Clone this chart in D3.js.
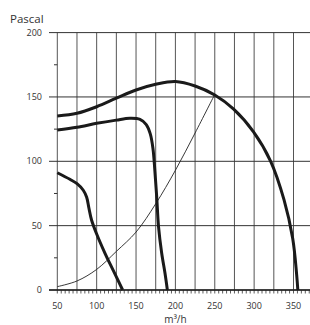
<!DOCTYPE html>
<html>
<head>
<meta charset="utf-8">
<script src="https://cdn.jsdelivr.net/npm/d3@7"></script>
<style>
  body { margin: 0; background: #fff; }
  text { font-family: "Open Sans", sans-serif; fill: #333; }
</style>
</head>
<body>
<svg id="chart" width="310" height="325"></svg>
<script>
// fan curves (m3/h, Pa)
const upperCurve = [[50,135.2],[75,137.3],[100,142.4],[125,149],[150,155.4],[175,159.8],[200,162],[225,158.5],[250,151.5],[274,140.5],[299,123],[321,100],[338,70],[349,40],[354,12],[355.5,0]];
const middleCurve = [[50,124.3],[75,126.4],[100,129.5],[125,132],[142,133.4],[155,132.6],[163,128.5],[168,121.5],[171.5,110],[174,92],[176.3,72],[178.6,49],[182.6,28.5],[186.8,13],[189.8,0]];
const lowerCurve = [[50,91.1],[66,86],[75,82.6],[83,77.5],[87.3,72],[90.2,63.5],[93.5,54.4],[100,43.5],[110.6,28.5],[121.2,15],[133,0]];
const systemCurve = [[50,2.6],[75,7],[100,16],[125,30],[150,45],[175,67],[200,93],[225,122],[250,152]];

const xTicks = [50,100,150,200,250,300,350];
const yTicks = [0,50,100,150,200];

const svg = d3.select("#chart");

const x = d3.scaleLinear().domain([50, 350]).range([57.3, 293.5]);
const y = d3.scaleLinear().domain([0, 200]).range([290, 32.6]);

const grid = svg.append("g").attr("id", "grid");

// vertical grid every 25
grid.selectAll("line.v")
  .data(d3.range(50, 400, 25))
  .enter().append("line")
  .attr("class", "v")
  .attr("x1", d => x(d)).attr("x2", d => x(d))
  .attr("y1", y(200)).attr("y2", y(0))
  .attr("stroke", "#555")
  .attr("stroke-width", 1);

// horizontal grid
grid.selectAll("line.h")
  .data(yTicks)
  .enter().append("line")
  .attr("class", "h")
  .attr("x1", 49).attr("x2", 310)
  .attr("y1", d => y(d)).attr("y2", d => y(d))
  .attr("stroke", "#333")
  .attr("stroke-width", 1);

// minor y ticks
grid.selectAll("line.ym")
  .data([25,75,125,175])
  .enter().append("line")
  .attr("x1", 54).attr("x2", x(50))
  .attr("y1", d => y(d)).attr("y2", d => y(d))
  .attr("stroke", "#333");

// minor x ticks every 5
grid.selectAll("line.xm")
  .data(d3.range(50, 380, 5))
  .enter().append("line")
  .attr("x1", d => x(d)).attr("x2", d => x(d))
  .attr("y1", y(0)).attr("y2", y(0) + 3.5)
  .attr("stroke", "#333")
  .attr("stroke-width", 0.8);

// axis line
grid.append("line")
  .attr("x1", 49).attr("x2", 310)
  .attr("y1", y(0)).attr("y2", y(0))
  .attr("stroke", "#222").attr("stroke-width", 1.3);

// labels
svg.selectAll("text.yl")
  .data(yTicks)
  .enter().append("text")
  .attr("x", 42)
  .attr("y", d => y(d) + 3)
  .attr("text-anchor", "end")
  .style("font-size", "9px")
  .text(d => d);

svg.selectAll("text.xl")
  .data(xTicks)
  .enter().append("text")
  .attr("x", d => x(d))
  .attr("y", 309)
  .attr("text-anchor", "middle")
  .style("font-size", "9px")
  .text(d => d);

svg.append("text")
  .attr("x", 10).attr("y", 23)
  .style("font-size", "11.5px")
  .text("Pascal");

svg.append("text")
  .attr("x", x(200)).attr("y", 323)
  .attr("text-anchor", "middle")
  .style("font-size", "10px")
  .text("m³/h");

const line = d3.line()
  .x(d => x(d[0]))
  .y(d => y(d[1]))
  .curve(d3.curveCatmullRom.alpha(0.5));

svg.append("path")
  .datum(systemCurve)
  .attr("d", line)
  .attr("fill", "none")
  .attr("stroke", "#222")
  .attr("stroke-width", 0.9);

[upperCurve, middleCurve, lowerCurve].forEach(c => {
  svg.append("path")
    .datum(c)
    .attr("d", line)
    .attr("fill", "none")
    .attr("stroke", "#1a1a1a")
    .attr("stroke-width", 3);
});
</script>
</body>
</html>
